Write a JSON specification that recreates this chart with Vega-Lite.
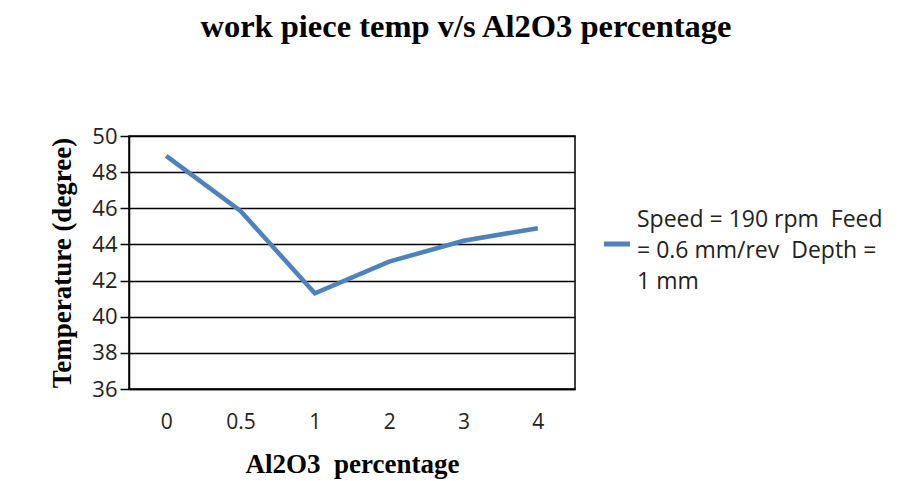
{
  "$schema": "https://vega.github.io/schema/vega-lite/v6.json",
  "width": 446,
  "height": 253,
  "padding": {"left": 48, "top": 10, "right": 5, "bottom": 5},
  "background": "white",
  "title": {
    "text": "work piece temp v/s Al2O3 percentage",
    "font": "Liberation Serif",
    "fontSize": 32.5,
    "fontWeight": "bold",
    "color": "black",
    "anchor": "middle",
    "frame": "bounds",
    "offset": 82
  },
  "data": {
    "values": [
      {"pct": "0", "temp": 48.9, "series": "s"},
      {"pct": "0.5", "temp": 45.85, "series": "s"},
      {"pct": "1", "temp": 41.3, "series": "s"},
      {"pct": "2", "temp": 43.05, "series": "s"},
      {"pct": "3", "temp": 44.2, "series": "s"},
      {"pct": "4", "temp": 44.9, "series": "s"}
    ]
  },
  "mark": {"type": "line", "strokeWidth": 4.5, "color": "#4F81BD"},
  "encoding": {
    "x": {
      "field": "pct",
      "type": "ordinal",
      "sort": null,
      "scale": {"type": "point", "padding": 0.5},
      "axis": {
        "title": "Al2O3\u00a0\u00a0percentage",
        "titleFont": "Liberation Serif",
        "titleFontSize": 27,
        "titleFontWeight": "bold",
        "titleColor": "black",
        "titlePadding": 19,
        "labelAngle": 0,
        "labelFont": "Open Sans",
        "labelFontSize": 21,
        "labelColor": "#222",
        "labelPadding": 22,
        "ticks": false,
        "domain": true,
        "domainColor": "black",
        "domainWidth": 1.5,
        "grid": false
      }
    },
    "y": {
      "field": "temp",
      "type": "quantitative",
      "scale": {"domain": [36, 50], "nice": false, "zero": false},
      "axis": {
        "title": "Temperature (degree)",
        "titleFont": "Liberation Serif",
        "titleFontSize": 27,
        "titleFontWeight": "bold",
        "titleColor": "black",
        "titlePadding": 15,
        "values": [36, 38, 40, 42, 44, 46, 48, 50],
        "labelFont": "Open Sans",
        "labelFontSize": 22,
        "labelColor": "#222",
        "labelPadding": 3,
        "tickSize": 9,
        "tickColor": "black",
        "tickWidth": 1.5,
        "domainColor": "black",
        "domainWidth": 1.5,
        "grid": true,
        "gridColor": "black",
        "gridWidth": 1.5,
        "gridOpacity": 1
      }
    },
    "color": {
      "field": "series",
      "type": "nominal",
      "scale": {"range": ["#4F81BD"]},
      "legend": {
        "title": null,
        "orient": "none",
        "legendX": 472,
        "legendY": 68,
        "symbolType": "stroke",
        "symbolStrokeWidth": 5,
        "symbolSize": 680,
        "labelExpr": "['Speed = 190 rpm\u00a0 Feed', '= 0.6 mm/rev\u00a0 Depth =', '1 mm']",
        "labelFont": "Open Sans",
        "labelFontSize": 23,
        "labelColor": "#222",
        "labelLimit": 400,
        "labelOffset": 4,
        "padding": 0,
        "encode": {
          "labels": {"update": {"lineHeight": {"value": 31}}},
          "symbols": {"update": {"y": {"value": 40}}}
        }
      }
    }
  },
  "config": {
    "view": {"stroke": "black", "strokeWidth": 1.5}
  }
}
